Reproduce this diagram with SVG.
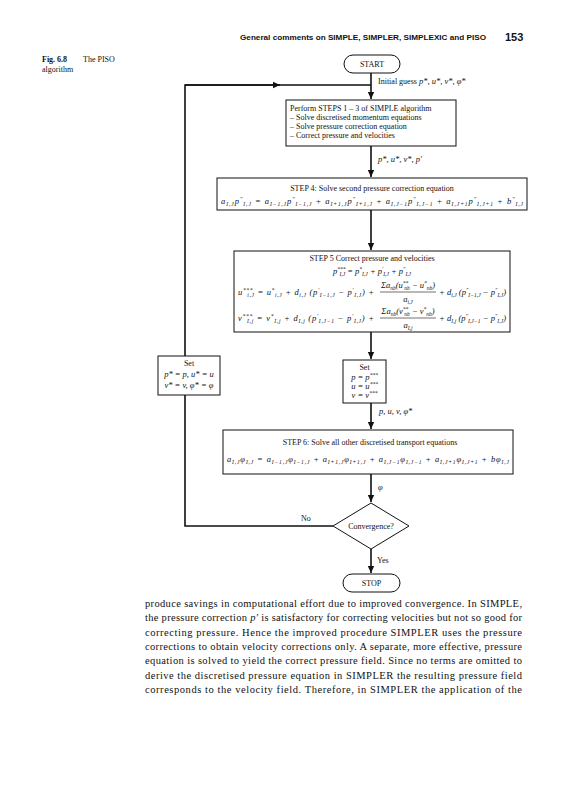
<svg xmlns="http://www.w3.org/2000/svg" width="565" height="800" viewBox="0 0 565 800">
<style>
.bg{fill:#fff}
.hd{font-family:"Liberation Sans",Arial,sans-serif;font-weight:bold;fill:#111}
.t{font-family:"Liberation Serif","Times New Roman",serif;font-size:8px;fill:#111}
.m{font-family:"Liberation Serif","Times New Roman",serif;font-size:8.5px;font-style:italic;fill:#111}
.b{font-size:5.5px}
.box{fill:#fff;stroke:#111;stroke-width:1}
.ln{fill:none;stroke:#111;stroke-width:1.6}
.fr{stroke:#111;stroke-width:0.6}
.p{font-family:"Liberation Serif","Times New Roman",serif;font-size:10.5px;fill:#111}
</style>
<defs>
<marker id="ah" markerWidth="8" markerHeight="8" refX="7" refY="4" orient="auto" markerUnits="userSpaceOnUse">
<path d="M0,0.8 L7,4 L0,7.2 Z" fill="#111"/>
</marker>
</defs>
<rect class="bg" x="0" y="0" width="565" height="800"/>

<g id="header">
<text class="hd" x="240" y="40" font-size="8" textLength="246" lengthAdjust="spacingAndGlyphs">General comments on SIMPLE, SIMPLER, SIMPLEXIC and PISO</text>
<text class="hd" x="505" y="41" font-size="11">153</text>
</g>
<g id="caption">
<text class="t" x="42" y="62" font-weight="bold">Fig. 6.8</text>
<text class="t" x="83" y="62">The PISO</text>
<text class="t" x="42" y="72">algorithm</text>
</g>

<g id="connectors">
<line class="ln" x1="371" y1="73" x2="371" y2="99" marker-end="url(#ah)"/>
<polyline class="ln" points="333,526 185,526 185,85 371,85"/>
<line class="ln" x1="185" y1="85" x2="280" y2="85" marker-end="url(#ah)"/>
<line class="ln" x1="371" y1="146" x2="371" y2="177" marker-end="url(#ah)"/>
<line class="ln" x1="371" y1="210" x2="371" y2="250" marker-end="url(#ah)"/>
<line class="ln" x1="371" y1="332" x2="371" y2="359" marker-end="url(#ah)"/>
<line class="ln" x1="371" y1="403" x2="371" y2="429" marker-end="url(#ah)"/>
<line class="ln" x1="371" y1="474" x2="371" y2="502" marker-end="url(#ah)"/>
<line class="ln" x1="371" y1="549" x2="371" y2="573" marker-end="url(#ah)"/>
<text class="t" x="378" y="84">Initial guess <tspan class="m">p*, u*, v*, φ*</tspan></text>
<text class="m" x="378" y="162">p*, u*, v*, p′</text>
<text class="m" x="379" y="414">p, u, v, φ*</text>
<text class="m" x="378" y="490">φ</text>
<text class="t" x="301" y="521">No</text>
<text class="t" x="377" y="563">Yes</text>
</g>

<g id="start">
<rect class="box" x="344" y="55" width="56" height="18" rx="9"/>
<text class="t" x="372" y="67" text-anchor="middle">START</text>
</g>

<g id="steps13">
<rect class="box" x="286" y="100" width="170" height="46"/>
<text class="t" x="290" y="111">Perform STEPS 1 – 3 of SIMPLE algorithm</text>
<text class="t" x="290" y="120">– Solve discretised momentum equations</text>
<text class="t" x="290" y="129">– Solve pressure correction equation</text>
<text class="t" x="290" y="138">– Correct pressure and velocities</text>
</g>

<g id="step4">
<rect class="box" x="217" y="178" width="310" height="32"/>
<text class="t" x="372" y="191" text-anchor="middle">STEP 4: Solve second pressure correction equation</text>
<text class="m" x="221" y="204" textLength="302" lengthAdjust="spacing">a<tspan class="b" dy="2">I,J</tspan><tspan dy="-2">p</tspan><tspan class="b" dy="-3">″</tspan><tspan class="b" dy="5">I,J</tspan><tspan dy="-2"> = a</tspan><tspan class="b" dy="2">I−1,J</tspan><tspan dy="-2">p</tspan><tspan class="b" dy="-3">″</tspan><tspan class="b" dy="5">I−1,J</tspan><tspan dy="-2"> + a</tspan><tspan class="b" dy="2">I+1,J</tspan><tspan dy="-2">p</tspan><tspan class="b" dy="-3">″</tspan><tspan class="b" dy="5">I+1,J</tspan><tspan dy="-2"> + a</tspan><tspan class="b" dy="2">I,J−1</tspan><tspan dy="-2">p</tspan><tspan class="b" dy="-3">″</tspan><tspan class="b" dy="5">I,J−1</tspan><tspan dy="-2"> + a</tspan><tspan class="b" dy="2">I,J+1</tspan><tspan dy="-2">p</tspan><tspan class="b" dy="-3">″</tspan><tspan class="b" dy="5">I,J+1</tspan><tspan dy="-2"> + b</tspan><tspan class="b" dy="-3">″</tspan><tspan class="b" dy="5">I,J</tspan></text>
</g>

<g id="step5">
<rect class="box" x="234" y="251" width="276" height="81"/>
<text class="t" x="372" y="261" text-anchor="middle">STEP 5  Correct pressure and velocities</text>
<text class="m" x="372" y="274" text-anchor="middle">p<tspan class="b" dy="-3">***</tspan><tspan class="b" dx="-6" dy="5">I,J</tspan><tspan dy="-2"> = p</tspan><tspan class="b" dy="-3">*</tspan><tspan class="b" dy="5">I,J</tspan><tspan dy="-2"> + p</tspan><tspan class="b" dy="-3">′</tspan><tspan class="b" dy="5">I,J</tspan><tspan dy="-2"> + p</tspan><tspan class="b" dy="-3">″</tspan><tspan class="b" dy="5">I,J</tspan></text>
<text class="m" x="238" y="295" textLength="136" lengthAdjust="spacing">u<tspan class="b" dy="-3">***</tspan><tspan class="b" dx="-6" dy="5">i,J</tspan><tspan dy="-2"> = u</tspan><tspan class="b" dy="-3">*</tspan><tspan class="b" dy="5">i,J</tspan><tspan dy="-2"> + d</tspan><tspan class="b" dy="2">i,J</tspan><tspan dy="-2"> (p</tspan><tspan class="b" dy="-3">′</tspan><tspan class="b" dy="5">I−1,J</tspan><tspan dy="-2"> − p</tspan><tspan class="b" dy="-3">′</tspan><tspan class="b" dy="5">I,J</tspan><tspan dy="-2">) +</tspan></text>
<text class="m" x="408" y="288" text-anchor="middle">Σa<tspan class="b" dy="2">nb</tspan><tspan dy="-2">(u</tspan><tspan class="b" dy="-3">**</tspan><tspan class="b" dx="-4" dy="5">nb</tspan><tspan dy="-2"> − u</tspan><tspan class="b" dy="-3">*</tspan><tspan class="b" dy="5">nb</tspan><tspan dy="-2">)</tspan></text>
<line class="fr" x1="380" y1="292" x2="436" y2="292"/>
<text class="m" x="408" y="302" text-anchor="middle">a<tspan class="b" dy="2">i,J</tspan></text>
<text class="m" x="439" y="295" textLength="67" lengthAdjust="spacing">+ d<tspan class="b" dy="2">i,J</tspan><tspan dy="-2"> (p</tspan><tspan class="b" dy="-3">″</tspan><tspan class="b" dy="5">I−1,J</tspan><tspan dy="-2"> − p</tspan><tspan class="b" dy="-3">″</tspan><tspan class="b" dy="5">I,J</tspan><tspan dy="-2">)</tspan></text>
<text class="m" x="238" y="321" textLength="136" lengthAdjust="spacing">v<tspan class="b" dy="-3">***</tspan><tspan class="b" dx="-6" dy="5">I,j</tspan><tspan dy="-2"> = v</tspan><tspan class="b" dy="-3">*</tspan><tspan class="b" dy="5">I,j</tspan><tspan dy="-2"> + d</tspan><tspan class="b" dy="2">I,j</tspan><tspan dy="-2"> (p</tspan><tspan class="b" dy="-3">′</tspan><tspan class="b" dy="5">I,J−1</tspan><tspan dy="-2"> − p</tspan><tspan class="b" dy="-3">′</tspan><tspan class="b" dy="5">I,J</tspan><tspan dy="-2">) +</tspan></text>
<text class="m" x="408" y="314" text-anchor="middle">Σa<tspan class="b" dy="2">nb</tspan><tspan dy="-2">(v</tspan><tspan class="b" dy="-3">**</tspan><tspan class="b" dx="-4" dy="5">nb</tspan><tspan dy="-2"> − v</tspan><tspan class="b" dy="-3">*</tspan><tspan class="b" dy="5">nb</tspan><tspan dy="-2">)</tspan></text>
<line class="fr" x1="380" y1="318" x2="436" y2="318"/>
<text class="m" x="408" y="328" text-anchor="middle">a<tspan class="b" dy="2">I,j</tspan></text>
<text class="m" x="439" y="321" textLength="67" lengthAdjust="spacing">+ d<tspan class="b" dy="2">I,j</tspan><tspan dy="-2"> (p</tspan><tspan class="b" dy="-3">″</tspan><tspan class="b" dy="5">I,J−1</tspan><tspan dy="-2"> − p</tspan><tspan class="b" dy="-3">″</tspan><tspan class="b" dy="5">I,J</tspan><tspan dy="-2">)</tspan></text>
</g>

<g id="set-right">
<rect class="box" x="343" y="360" width="43" height="43"/>
<text class="t" x="364.5" y="370" text-anchor="middle">Set</text>
<text class="m" x="364.5" y="380" text-anchor="middle">p = p<tspan class="b" dy="-3">***</tspan></text>
<text class="m" x="364.5" y="389" text-anchor="middle">u = u<tspan class="b" dy="-3">***</tspan></text>
<text class="m" x="364.5" y="398" text-anchor="middle">v = v<tspan class="b" dy="-3">***</tspan></text>
</g>

<g id="set-left">
<rect class="box" x="158" y="356" width="62" height="39"/>
<text class="t" x="189" y="366" text-anchor="middle">Set</text>
<text class="m" x="189" y="377" text-anchor="middle">p* = p, u* = u</text>
<text class="m" x="189" y="388" text-anchor="middle">v* = v, φ* = φ</text>
</g>

<g id="step6">
<rect class="box" x="223" y="430" width="290" height="44"/>
<text class="t" x="370" y="445" text-anchor="middle">STEP 6: Solve all other discretised transport equations</text>
<text class="m" x="227" y="462" textLength="282" lengthAdjust="spacing">a<tspan class="b" dy="2">I,J</tspan><tspan dy="-2">φ</tspan><tspan class="b" dy="2">I,J</tspan><tspan dy="-2"> = a</tspan><tspan class="b" dy="2">I−1,J</tspan><tspan dy="-2">φ</tspan><tspan class="b" dy="2">I−1,J</tspan><tspan dy="-2"> + a</tspan><tspan class="b" dy="2">I+1,J</tspan><tspan dy="-2">φ</tspan><tspan class="b" dy="2">I+1,J</tspan><tspan dy="-2"> + a</tspan><tspan class="b" dy="2">I,J−1</tspan><tspan dy="-2">φ</tspan><tspan class="b" dy="2">I,J−1</tspan><tspan dy="-2"> + a</tspan><tspan class="b" dy="2">I,J+1</tspan><tspan dy="-2">φ</tspan><tspan class="b" dy="2">I,J+1</tspan><tspan dy="-2"> + bφ</tspan><tspan class="b" dy="2">I,J</tspan></text>
</g>

<g id="convergence">
<polygon class="box" points="371,503 409,526 371,549 333,526"/>
<text class="t" x="371" y="529" text-anchor="middle">Convergence?</text>
</g>

<g id="stop">
<rect class="box" x="343" y="574" width="57" height="18" rx="9"/>
<text class="t" x="371.5" y="586" text-anchor="middle">STOP</text>
</g>

<g id="body-text">
<text class="p" x="145" y="607" textLength="377" lengthAdjust="spacing">produce savings in computational effort due to improved convergence. In SIMPLE,</text>
<text class="p" x="145" y="621.3" textLength="377" lengthAdjust="spacing">the pressure correction <tspan font-style="italic">p′</tspan> is satisfactory for correcting velocities but not so good for</text>
<text class="p" x="145" y="635.6" textLength="377" lengthAdjust="spacing">correcting pressure. Hence the improved procedure SIMPLER uses the pressure</text>
<text class="p" x="145" y="649.9" textLength="377" lengthAdjust="spacing">corrections to obtain velocity corrections only. A separate, more effective, pressure</text>
<text class="p" x="145" y="664.2" textLength="377" lengthAdjust="spacing">equation is solved to yield the correct pressure field. Since no terms are omitted to</text>
<text class="p" x="145" y="678.5" textLength="377" lengthAdjust="spacing">derive the discretised pressure equation in SIMPLER the resulting pressure field</text>
<text class="p" x="145" y="692.8" textLength="377" lengthAdjust="spacing">corresponds to the velocity field. Therefore, in SIMPLER the application of the</text>
</g>
</svg>
